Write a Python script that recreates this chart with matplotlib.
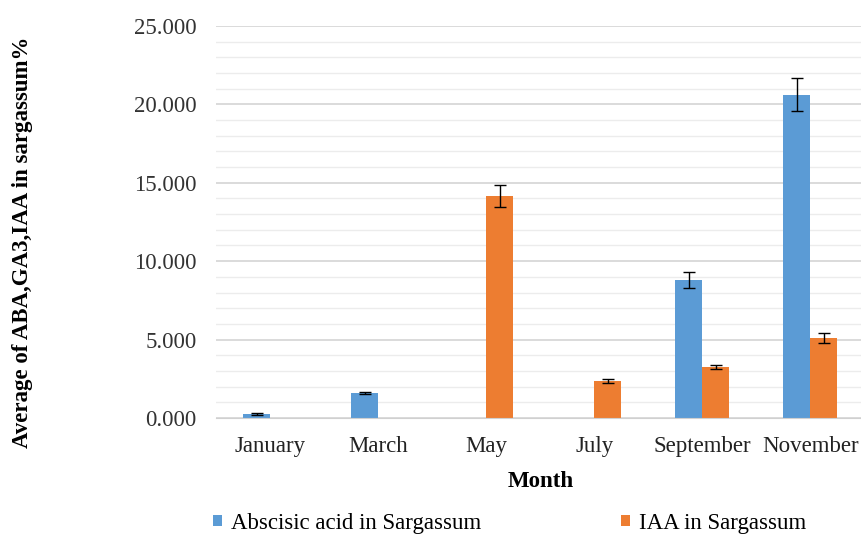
import matplotlib
matplotlib.use('Agg')
from matplotlib import pyplot as plt
import numpy as np

plt.rcParams['font.family'] = ['Liberation Serif', 'DejaVu Serif']

months = ['January', 'March', 'May', 'July', 'September', 'November']
aba = [0.25, 1.6, 0.0, 0.0, 8.8, 20.6]
aba_err = [0.05, 0.08, 0.0, 0.0, 0.48, 1.05]
iaa = [0.0, 0.0, 14.15, 2.35, 3.25, 5.1]
iaa_err = [0.0, 0.0, 0.7, 0.15, 0.15, 0.3]

blue = '#5B9BD5'
orange = '#ED7D31'

fig = plt.figure(figsize=(8.61, 5.37), dpi=100)
ax = fig.add_axes([0.251, 0.2216, 0.753, 0.7302])

x = np.arange(len(months))
w = 0.25
# only draw error bars where there is a bar
aba_e = [e if v > 0 else np.nan for v, e in zip(aba, aba_err)]
iaa_e = [e if v > 0 else np.nan for v, e in zip(iaa, iaa_err)]
ax.bar(x - w/2, aba, w, color=blue, label='Abscisic acid in Sargassum', zorder=3)
ax.bar(x + w/2, iaa, w, color=orange, label='IAA in Sargassum', zorder=3)
ax.errorbar(x - w/2, aba, yerr=aba_e, fmt='none', ecolor='black', elinewidth=1,
            capsize=4, capthick=1, zorder=4)
ax.errorbar(x + w/2, iaa, yerr=iaa_e, fmt='none', ecolor='black', elinewidth=1,
            capsize=4, capthick=1, zorder=4)

ax.set_xlim(-0.5, len(months) - 0.5)
ax.set_ylim(0, 25)
ax.set_yticks(np.arange(0, 25.1, 5))
ax.set_yticks(np.arange(0, 25.1, 1), minor=True)
ax.set_yticklabels(['%.3f' % v for v in np.arange(0, 25.1, 5)], fontsize=16.5, color='#333333')
ax.set_xticks(x)
ax.set_xticklabels(months, fontsize=16.5, color='#222222')
ax.tick_params(axis='both', which='both', length=0)
ax.tick_params(axis='y', pad=14)
ax.tick_params(axis='x', pad=13)
ax.grid(axis='y', which='major', color='#d4d4d4', lw=1.2, zorder=0)
ax.grid(axis='y', which='minor', color='#ececec', lw=1.0, zorder=0)
for s in ['top', 'right', 'left']:
    ax.spines[s].set_visible(False)
ax.spines['bottom'].set_color('#d0d0d0')
ax.spines['bottom'].set_zorder(5)

ax.set_xlabel('Month', fontsize=16.5, fontweight='bold', labelpad=10)
fig.text(0.026, 0.549, 'Average of ABA,GA3,IAA in sargassum%', rotation=90,
         fontsize=16.5, fontweight='bold', ha='center', va='center')

fig.legend(loc='center left', bbox_to_anchor=(0.247, 0.026), ncol=2, frameon=False,
           fontsize=16.5, handlelength=0.4, handleheight=0.4, handletextpad=0.4,
           columnspacing=6.1, borderpad=0, borderaxespad=0)

fig.savefig('out.png', dpi=100)
